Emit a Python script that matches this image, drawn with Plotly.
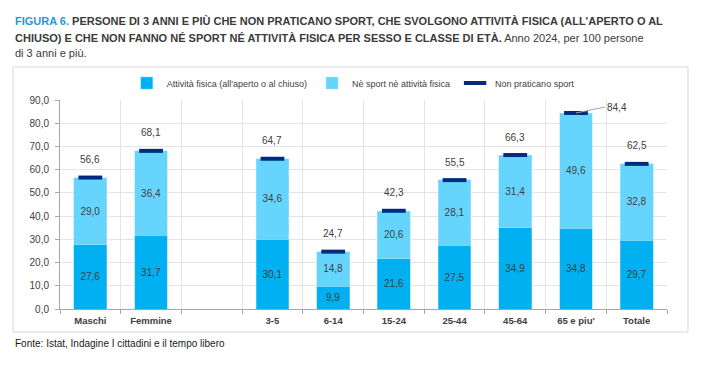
import plotly.graph_objects as go

categories = ["Maschi", "Femmine", " ", "3-5", "6-14", "15-24", "25-44", "45-64", "65 e piu'", "Totale"]
attivita_fisica = [27.6, 31.7, None, 30.1, 9.9, 21.6, 27.5, 34.9, 34.8, 29.7]
ne_sport_ne_attivita = [29.0, 36.4, None, 34.6, 14.8, 20.6, 28.1, 31.4, 49.6, 32.8]
non_praticano_sport = [56.6, 68.1, None, 64.7, 24.7, 42.3, 55.5, 66.3, 84.4, 62.5]
y_ticks = [0, 10, 20, 30, 40, 50, 60, 70, 80, 90]

title_lines = [
    "<b><span style='color:#1F9AD6'>FIGURA 6.</span> PERSONE DI 3 ANNI E PIÙ CHE NON PRATICANO SPORT, "
    "CHE SVOLGONO ATTIVITÀ FISICA (ALL'APERTO O AL</b>",
    "<b>CHIUSO) E CHE NON FANNO NÉ SPORT NÉ ATTIVITÀ FISICA PER SESSO E CLASSE DI ETÀ.</b> "
    "Anno 2024, per 100 persone",
    "di 3 anni e più.",
]
source_text = "Fonte: Istat, Indagine I cittadini e il tempo libero"

FONT = "Liberation Sans, Arial, sans-serif"
TXT = "#404040"

fig = go.Figure()
fig.add_trace(go.Bar(
    x=categories, y=attivita_fisica, name="Attività fisica (all'aperto o al chiuso)",
    marker=dict(color="#00B0F0", line=dict(color="#7FD8F8", width=0.5)),
    texttemplate="%{y:.1f}", textposition="inside", insidetextanchor="middle",
    textfont=dict(family=FONT, size=10, color=TXT), hoverinfo="skip",
))
fig.add_trace(go.Bar(
    x=categories, y=ne_sport_ne_attivita, name="Nè sport nè attività fisica",
    marker=dict(color="#66D5FE", line=dict(color="#A8E6FD", width=0.5)),
    texttemplate="%{y:.1f}", textposition="inside", insidetextanchor="middle",
    textfont=dict(family=FONT, size=10, color=TXT), hoverinfo="skip",
))
fig.add_trace(go.Scatter(
    x=categories, y=non_praticano_sport, name="Non praticano sport", mode="markers",
    marker=dict(symbol="line-ew", size=17, line=dict(color="#002B80", width=4), color="#002B80"),
    hoverinfo="skip",
))

annotations = []
for c, v in zip(categories, non_praticano_sport):
    if v is None:
        continue
    label = f"{v:.1f}".replace(".", ",")
    if c == "65 e piu'":
        annotations.append(dict(x=c, y=v, text=label, showarrow=True, arrowhead=0,
                                arrowwidth=1, arrowcolor="#A6A6A6", ax=29, ay=-6,
                                xanchor="left", yanchor="middle", standoff=0,
                                font=dict(family=FONT, size=10, color=TXT)))
    else:
        annotations.append(dict(x=c, y=v, text=label, showarrow=False, yshift=18,
                                yanchor="middle",
                                font=dict(family=FONT, size=10, color=TXT)))

# title lines (paper coords: plot area is 607 x 209 px)
for line, yp in zip(title_lines, [1.378, 1.299, 1.2265]):
    annotations.append(dict(xref="paper", yref="paper", x=-0.0774, y=yp,
                            xanchor="left", yanchor="middle", text=line, showarrow=False,
                            font=dict(family=FONT, size=11, color="#3a3a3a")))

annotations.append(dict(
    xref="paper", yref="paper", x=-0.0774, y=-0.163, xanchor="left", yanchor="middle",
    text=source_text, showarrow=False,
    font=dict(family=FONT, size=10, color="#1a1a1a")))

# Figure is 8px smaller than the window to absorb the page's default body margin
fig.update_layout(
    width=699, height=365,
    margin=dict(l=52, r=40, t=92, b=64, autoexpand=False),
    paper_bgcolor="white", plot_bgcolor="white",
    barmode="stack", bargap=0.46,
    separators=",.",
    legend=dict(orientation="h", x=0.11, y=1.081, xanchor="left", yanchor="middle",
                traceorder="normal",
                font=dict(family=FONT, size=9, color=TXT), itemwidth=30,
                bgcolor="rgba(0,0,0,0)"),
    annotations=annotations,
    shapes=[dict(type="rect", xref="paper", yref="paper", x0=-0.0774, x1=1.0346,
                 y0=-0.110, y1=1.158, line=dict(color="#D9D9D9", width=1), layer="below")],
    xaxis=dict(type="category", range=[-0.5, len(categories) - 0.5], autorange=False,
               tickson="boundaries", showgrid=True, gridcolor="#E4E4E4",
               showline=True, linecolor="#A6A6A6", ticks="outside", ticklen=4,
               tickcolor="#A6A6A6", tickangle=0, automargin=False, ticklabelstandoff=3,
               tickfont=dict(family=FONT, size=9.5, color=TXT, weight="bold"),
               fixedrange=True),
    yaxis=dict(range=[0, 90], tickvals=y_ticks, tickformat=".1f", showgrid=True,
               gridcolor="#E4E4E4", showline=True, linecolor="#A6A6A6", ticks="outside",
               ticklen=4, tickcolor="#A6A6A6", zeroline=False, automargin=False,
               ticklabelstandoff=4,
               tickfont=dict(family=FONT, size=10, color=TXT), fixedrange=True),
)

fig.write_html("out.html")
